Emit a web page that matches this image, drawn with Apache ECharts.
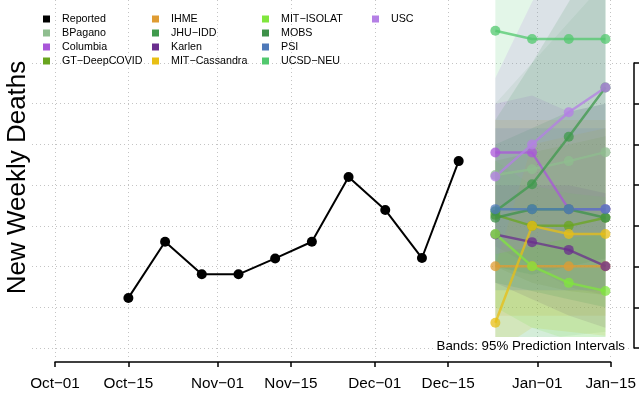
<!DOCTYPE html>
<html>
<head>
<meta charset="utf-8">
<script src="https://cdn.jsdelivr.net/npm/echarts@6/dist/echarts.min.js"></script>
<style>
  html, body { margin: 0; padding: 0; background: #fff; }
  #chart { width: 639px; height: 403px; }
</style>
</head>
<body>
<div id="chart"></div>
<script>
// x axis ticks (1st and 15th of each month)
const tickDates = ["2020-10-01", "2020-10-15", "2020-11-01", "2020-11-15", "2020-12-01", "2020-12-15", "2021-01-01", "2021-01-15"];
const tickLabels = ["Oct\u221201", "Oct\u221215", "Nov\u221201", "Nov\u221215", "Dec\u221201", "Dec\u221215", "Jan\u221201", "Jan\u221215"];

// observed weekly deaths
const reportedDates = ["2020-10-15", "2020-10-22", "2020-10-29", "2020-11-05", "2020-11-12", "2020-11-19", "2020-11-26", "2020-12-03", "2020-12-10", "2020-12-17"];
const reportedDeaths = [223, 361, 281, 281, 320, 361, 520, 439, 321, 559];

// forecasts (point estimates)
const forecastDates = ["2020-12-24", "2020-12-31", "2021-01-07", "2021-01-14"];
const bpagano = [525, 539, 559, 581];
const columbia = [580, 580, 441, 441];
const gtDeepCovid = [427, 400, 400, 420];
const ihme = [301, 301, 301, 301];
const jhuIdd = [436, 502, 619, 740];
const karlen = [379, 360, 341, 301];
const mitCassandra = [162, 400, 380, 380];
const mitIsolat = [380, 301, 260, 240];
const mobs = [420, 441, 441, 420];
const psi = [441, 441, 441, 441];
const ucsdNeu = [879, 859, 859, 859];
const usc = [521, 600, 679, 740];

// 95% prediction intervals
const bpaganoLo = [110, 120, 130, 140], bpaganoHi = [700, 800, 900, 1000];
const columbiaLo = [350, 300, 250, 230], columbiaHi = [700, 720, 680, 700];
const gtDeepCovidLo = [300, 260, 240, 230], gtDeepCovidHi = [560, 580, 600, 620];
const ihmeLo = [179, 179, 179, 179], ihmeHi = [660, 660, 660, 660];
const jhuIddLo = [300, 280, 300, 320], jhuIddHi = [660, 800, 950, 1100];
const karlenLo = [260, 220, 180, 150], karlenHi = [500, 500, 500, 480];
const mitCassandraLo = [90, 150, 140, 130], mitCassandraHi = [300, 600, 620, 640];
const mitIsolatLo = [200, 150, 120, 100], mitIsolatHi = [560, 500, 480, 470];
const mobsLo = [260, 240, 220, 200], mobsHi = [600, 640, 680, 700];
const psiLo = [242, 242, 242, 242], psiHi = [640, 640, 640, 640];
const ucsdNeuLo = [120, 120, 110, 100], ucsdNeuHi = [1200, 1300, 1400, 1500];
const uscLo = [330, 350, 370, 380], uscHi = [763, 950, 1100, 1250];

const models = [
  { name: "BPagano", color: "#8fbe8f", mean: bpagano, lo: bpaganoLo, hi: bpaganoHi },
  { name: "Columbia", color: "#a956d9", mean: columbia, lo: columbiaLo, hi: columbiaHi },
  { name: "GT\u2212DeepCOVID", color: "#69a51f", mean: gtDeepCovid, lo: gtDeepCovidLo, hi: gtDeepCovidHi },
  { name: "IHME", color: "#df9c33", mean: ihme, lo: ihmeLo, hi: ihmeHi },
  { name: "JHU\u2212IDD", color: "#3f9a4c", mean: jhuIdd, lo: jhuIddLo, hi: jhuIddHi },
  { name: "Karlen", color: "#6a2e8e", mean: karlen, lo: karlenLo, hi: karlenHi },
  { name: "MIT\u2212Cassandra", color: "#e8bf14", mean: mitCassandra, lo: mitCassandraLo, hi: mitCassandraHi },
  { name: "MIT\u2212ISOLAT", color: "#80e63d", mean: mitIsolat, lo: mitIsolatLo, hi: mitIsolatHi },
  { name: "MOBS", color: "#3e9149", mean: mobs, lo: mobsLo, hi: mobsHi },
  { name: "PSI", color: "#4e79b9", mean: psi, lo: psiLo, hi: psiHi },
  { name: "UCSD\u2212NEU", color: "#52c86e", mean: ucsdNeu, lo: ucsdNeuLo, hi: ucsdNeuHi },
  { name: "USC", color: "#b47fe5", mean: usc, lo: uscLo, hi: uscHi }
];

// every day on the axis, Oct-01 .. Jan-15
let days = [];
for (let t = Date.UTC(2020, 9, 1); t <= Date.UTC(2021, 0, 15); t += 86400000) {
  days.push(new Date(t).toISOString().slice(0, 10));
}
const isTick = (i, v) => tickDates.indexOf(v) >= 0;

const font = "Liberation Sans";
const gridDot = { color: "#c4c4c4", width: 1, type: [1, 3] };

let series = [];
// bands first, so they sit under the lines
models.forEach(function (m) {
  series.push({
    name: m.name + " lo", type: "line", xAxisIndex: 1, yAxisIndex: 1, stack: m.name,
    data: forecastDates.map((d, i) => [d, m.lo[i]]),
    symbol: "none", lineStyle: { opacity: 0 }, silent: true, z: 1
  });
  series.push({
    name: m.name + " band", type: "line", xAxisIndex: 1, yAxisIndex: 1, stack: m.name,
    data: forecastDates.map((d, i) => [d, m.hi[i] - m.lo[i]]),
    symbol: "none", lineStyle: { opacity: 0 },
    areaStyle: { color: m.color, opacity: 0.16 }, silent: true, z: 1
  });
});

series.push({
  name: "Reported", type: "line", xAxisIndex: 1, yAxisIndex: 1,
  data: reportedDates.map((d, i) => [d, reportedDeaths[i]]),
  color: "#000", symbol: "circle", symbolSize: 10, showAllSymbol: true,
  lineStyle: { width: 2, color: "#000" }, itemStyle: { color: "#000" }, z: 3
});
models.forEach(function (m) {
  series.push({
    name: m.name, type: "line", xAxisIndex: 1, yAxisIndex: 1,
    data: forecastDates.map((d, i) => [d, m.mean[i]]),
    color: m.color, symbol: "circle", symbolSize: 10, showAllSymbol: true,
    lineStyle: { width: 2.5, color: m.color, opacity: 0.75 },
    itemStyle: { color: m.color, opacity: 0.75 }, z: 3
  });
});

// legend columns like the original
const legendCols = [
  { left: 43, names: ["Reported", "BPagano", "Columbia", "GT\u2212DeepCOVID"] },
  { left: 152, names: ["IHME", "JHU\u2212IDD", "Karlen", "MIT\u2212Cassandra"] },
  { left: 262, names: ["MIT\u2212ISOLAT", "MOBS", "PSI", "UCSD\u2212NEU"] },
  { left: 372, names: ["USC"] }
];
const colorOf = name => name === "Reported" ? "#000" : models.find(m => m.name === name).color;

let legends = legendCols.map(function (c) {
  return {
    left: c.left, top: 12, orient: "vertical", padding: 0, itemGap: 0,
    itemWidth: 21, itemHeight: 7, selectedMode: false,
    icon: "path://M0,0h10v10h-10z",
    textStyle: { fontFamily: font, fontSize: 10.7, color: "#000", lineHeight: 14 },
    data: c.names.map(n => ({ name: n, itemStyle: { color: colorOf(n), opacity: 1 } }))
  };
});

let option = {
  animation: false,
  backgroundColor: "#fff",
  legend: legends,
  grid: [
    { left: 32, right: 7, top: 63, bottom: 55 },
    { left: 55, right: 28, top: 0, bottom: 46 }
  ],
  xAxis: [
    { gridIndex: 0, type: "value", show: false },
    {
      gridIndex: 1, type: "category", data: days, boundaryGap: false, offset: 5,
      axisLine: { onZero: false, lineStyle: { color: "#000", width: 1.5 } },
      axisTick: { interval: isTick, length: 5, lineStyle: { color: "#000", width: 1.5 } },
      axisLabel: {
        interval: isTick, margin: 14, color: "#000", fontFamily: font, fontSize: 15.3,
        formatter: v => tickLabels[tickDates.indexOf(v)]
      },
      splitLine: { show: true, interval: isTick, lineStyle: gridDot }
    }
  ],
  yAxis: [
    {
      gridIndex: 0, type: "value", position: "right", offset: 2,
      min: 100, max: 800, interval: 100,
      axisLine: { show: true, onZero: false, lineStyle: { color: "#000", width: 1.5 } },
      axisTick: { show: true, inside: false, length: 8, lineStyle: { color: "#000", width: 1.5 } },
      axisLabel: { show: false },
      splitLine: { show: true, lineStyle: gridDot }
    },
    { gridIndex: 1, type: "value", min: 77.9, max: 954.7, show: false, splitLine: { show: false } }
  ],
  graphic: [
    {
      type: "text", x: 18, y: 177.5, rotation: Math.PI / 2,
      style: {
        text: "New Weekly Deaths", fontFamily: font, fontSize: 26, fill: "#000",
        textAlign: "center", textVerticalAlign: "middle"
      }
    },
    {
      type: "text", x: 627, y: 346.5, z: 100,
      style: {
        text: "Bands: 95% Prediction Intervals", fontFamily: font, fontSize: 13.3, fill: "#000",
        textAlign: "right", textVerticalAlign: "middle",
        backgroundColor: "#fff", padding: [3, 2, 3, 2]
      }
    }
  ],
  series: series
};

let chart = echarts.init(document.getElementById("chart"));
chart.setOption(option);
</script>
</body>
</html>
